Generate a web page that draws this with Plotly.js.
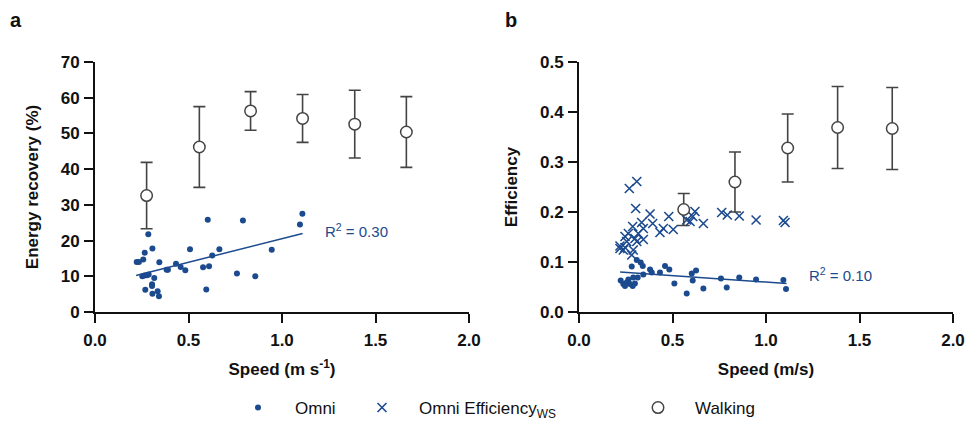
<!DOCTYPE html>
<html><head><meta charset="utf-8">
<script src="https://cdn.plot.ly/plotly-3.0.1.min.js"></script>
<style>html,body{margin:0;padding:0;background:#fff}#chart{width:966px;height:431px}</style>
</head><body><div id="chart"></div>
<script>
// ---- Panel a: energy recovery ----
const omniA_speed = [0.285,0.307,0.266,0.258,0.223,0.235,0.344,0.253,0.264,0.278,0.287,0.317,0.305,0.305,0.269,0.307,0.335,0.342,0.383,0.390,0.433,0.458,0.483,0.508,0.578,0.610,0.595,0.603,0.627,0.665,0.759,0.791,0.857,0.945,1.096,1.109];
const omniA_recovery = [21.8,17.8,16.6,14.7,14.0,14.0,13.9,10.0,10.2,10.3,10.5,9.5,7.8,7.3,6.2,5.1,5.8,4.4,11.8,11.8,13.5,12.6,11.7,17.6,12.5,12.8,6.3,25.8,15.8,17.6,10.8,25.6,10.0,17.4,24.5,27.5];
const fitA_speed = [0.22, 1.11];
const fitA_recovery = [10.2, 22.0];
const walkA_speed = [0.276, 0.558, 0.832, 1.110, 1.389, 1.665];
const walkA_recovery = [32.6, 46.2, 56.3, 54.2, 52.6, 50.4];
const walkA_sd = [9.3, 11.3, 5.4, 6.7, 9.5, 9.9];

// ---- Panel b: efficiency ----
const omniB_speed = [0.282,0.330,0.341,0.380,0.389,0.433,0.460,0.483,0.344,0.314,0.290,0.264,0.223,0.237,0.255,0.273,0.299,0.246,0.287,0.510,0.576,0.603,0.626,0.608,0.665,0.759,0.790,0.857,0.947,1.093,1.107,0.309];
const omniB_eff = [0.091,0.099,0.092,0.085,0.079,0.079,0.092,0.085,0.075,0.069,0.069,0.065,0.063,0.056,0.059,0.056,0.057,0.052,0.052,0.057,0.037,0.077,0.083,0.063,0.047,0.067,0.049,0.069,0.065,0.064,0.046,0.104];
const wsB_speed = [0.269,0.309,0.303,0.380,0.480,0.394,0.335,0.287,0.451,0.504,0.433,0.344,0.317,0.264,0.246,0.299,0.344,0.255,0.309,0.219,0.246,0.219,0.237,0.282,0.290,0.620,0.608,0.594,0.576,0.665,0.763,0.793,0.857,0.947,1.093,1.102];
const wsB_eff = [0.247,0.261,0.207,0.196,0.191,0.177,0.179,0.171,0.167,0.165,0.159,0.167,0.157,0.157,0.151,0.147,0.145,0.141,0.141,0.132,0.129,0.127,0.124,0.114,0.124,0.201,0.191,0.181,0.184,0.177,0.199,0.194,0.192,0.184,0.183,0.179];
const fitB_speed = [0.22, 1.11];
const fitB_eff = [0.080, 0.057];
const walkB_speed = [0.560, 0.834, 1.116, 1.383, 1.675];
const walkB_eff = [0.205, 0.260, 0.328, 0.369, 0.367];
const walkB_sd = [0.032, 0.060, 0.068, 0.082, 0.082];

const xTicks = [0, 0.5, 1.0, 1.5, 2.0];
const yTicksA = [0, 10, 20, 30, 40, 50, 60, 70];
const yTicksB = [0, 0.1, 0.2, 0.3, 0.4, 0.5];

const BLUE = '#1b4a8e';
const GREY = '#444444';
const FONT = 'Arial, "Liberation Sans", Helvetica, sans-serif';

const dotMarker = {color: BLUE, size: 6, symbol: 'circle'};
const crossMarker = {color: BLUE, size: 9, symbol: 'x-thin-open', line: {color: BLUE, width: 1.6}};
const walkMarker = {color: 'white', size: 11.5, symbol: 'circle', line: {color: GREY, width: 1.5}};
const errStyle = (arr) => ({type: 'data', array: arr, visible: true, color: GREY, thickness: 1.6, width: 6});

const traces = [
  {x: fitA_speed, y: fitA_recovery, mode: 'lines', line: {color: BLUE, width: 1.5}, showlegend: false, xaxis: 'x', yaxis: 'y', hoverinfo: 'skip'},
  {x: omniA_speed, y: omniA_recovery, mode: 'markers', marker: dotMarker, name: 'Omni', legendgroup: 'omni', showlegend: true, legend: 'legend', xaxis: 'x', yaxis: 'y'},
  {x: walkA_speed, y: walkA_recovery, mode: 'markers', marker: walkMarker, error_y: errStyle(walkA_sd), name: 'Walking', legendgroup: 'walk', showlegend: false, xaxis: 'x', yaxis: 'y'},
  {x: fitB_speed, y: fitB_eff, mode: 'lines', line: {color: BLUE, width: 1.5}, showlegend: false, xaxis: 'x2', yaxis: 'y2', hoverinfo: 'skip'},
  {x: omniB_speed, y: omniB_eff, mode: 'markers', marker: dotMarker, name: 'Omni', legendgroup: 'omni', showlegend: false, xaxis: 'x2', yaxis: 'y2'},
  {x: wsB_speed, y: wsB_eff, mode: 'markers', marker: crossMarker, name: 'Omni Efficiency<sub>WS</sub>', showlegend: true, legend: 'legend2', xaxis: 'x2', yaxis: 'y2'},
  {x: walkB_speed, y: walkB_eff, mode: 'markers', marker: walkMarker, error_y: errStyle(walkB_sd), name: 'Walking', legendgroup: 'walk', showlegend: true, legend: 'legend3', xaxis: 'x2', yaxis: 'y2'}
];

const axBase = {
  showgrid: false, zeroline: false, showline: true, linecolor: '#111', linewidth: 2,
  ticks: 'outside', ticklen: 9, tickwidth: 2, tickcolor: '#111',
  tickfont: {family: FONT, size: 17, color: '#111', weight: 'bold'},
  fixedrange: true, automargin: false
};
const titleFont = {family: FONT, size: 17, color: '#111', weight: 'bold'};

const ML = 95, MR = 13, MT = 62, MB = 119, W = 966, H = 431;
const pw = W - ML - MR, ph = H - MT - MB;
const px2x = (p) => (p - ML) / pw;
const px2y = (p) => (H - MB - p) / ph;

const legBase = {orientation: 'h', yanchor: 'middle', xanchor: 'left', itemwidth: 64,
  font: {family: FONT, size: 17, color: '#111'}, itemclick: false, bgcolor: 'rgba(0,0,0,0)'};

const layout = {
  width: W, height: H,
  margin: {l: ML, r: MR, t: MT, b: MB, autoexpand: false},
  paper_bgcolor: 'white', plot_bgcolor: 'white',
  font: {family: FONT, color: '#111'},
  xaxis: Object.assign({}, axBase, {domain: [0, px2x(469)], range: [0, 2.0], tickvals: xTicks, tickformat: '.1f', anchor: 'y', ticklabelstandoff: 3,
    title: {text: 'Speed (m s<sup>-1</sup>)', font: titleFont, standoff: 14}}),
  yaxis: Object.assign({}, axBase, {domain: [0, 1], range: [0, 70], tickvals: yTicksA, anchor: 'x', ticklabelstandoff: 1,
    title: {text: 'Energy recovery (%)', font: titleFont, standoff: 18}}),
  xaxis2: Object.assign({}, axBase, {domain: [px2x(579), 1.0], range: [0, 2.0], tickvals: xTicks, tickformat: '.1f', anchor: 'y2', ticklabelstandoff: 3,
    title: {text: 'Speed (m/s)', font: titleFont, standoff: 14}}),
  yaxis2: Object.assign({}, axBase, {domain: [0, 1], range: [0, 0.5], tickvals: yTicksB, tickformat: '.1f', anchor: 'x2', ticklabelstandoff: 1,
    title: {text: 'Efficiency', font: titleFont, standoff: 18}}),
  showlegend: true,
  legend: Object.assign({}, legBase, {x: px2x(258 - 37), y: px2y(408)}),
  legend2: Object.assign({}, legBase, {x: px2x(382 - 37), y: px2y(408)}),
  legend3: Object.assign({}, legBase, {x: px2x(658 - 37), y: px2y(408)}),
  annotations: [
    {x: 1.22, y: 22.7, xref: 'x', yref: 'y', text: 'R<sup>2</sup> = 0.30', showarrow: false, xanchor: 'left', yanchor: 'middle', font: {family: FONT, size: 15, color: BLUE}},
    {x: 1.22, y: 0.076, xref: 'x2', yref: 'y2', text: 'R<sup>2</sup> = 0.10', showarrow: false, xanchor: 'left', yanchor: 'middle', font: {family: FONT, size: 15, color: BLUE}},
    {x: px2x(16), y: px2y(20), xref: 'paper', yref: 'paper', text: 'a', showarrow: false, xanchor: 'center', yanchor: 'middle', font: {family: FONT, size: 20, color: '#111', weight: 'bold'}},
    {x: px2x(511), y: px2y(20), xref: 'paper', yref: 'paper', text: 'b', showarrow: false, xanchor: 'center', yanchor: 'middle', font: {family: FONT, size: 20, color: '#111', weight: 'bold'}}
  ]
};

Plotly.newPlot('chart', traces, layout, {displayModeBar: false, staticPlot: true});
</script></body></html>
